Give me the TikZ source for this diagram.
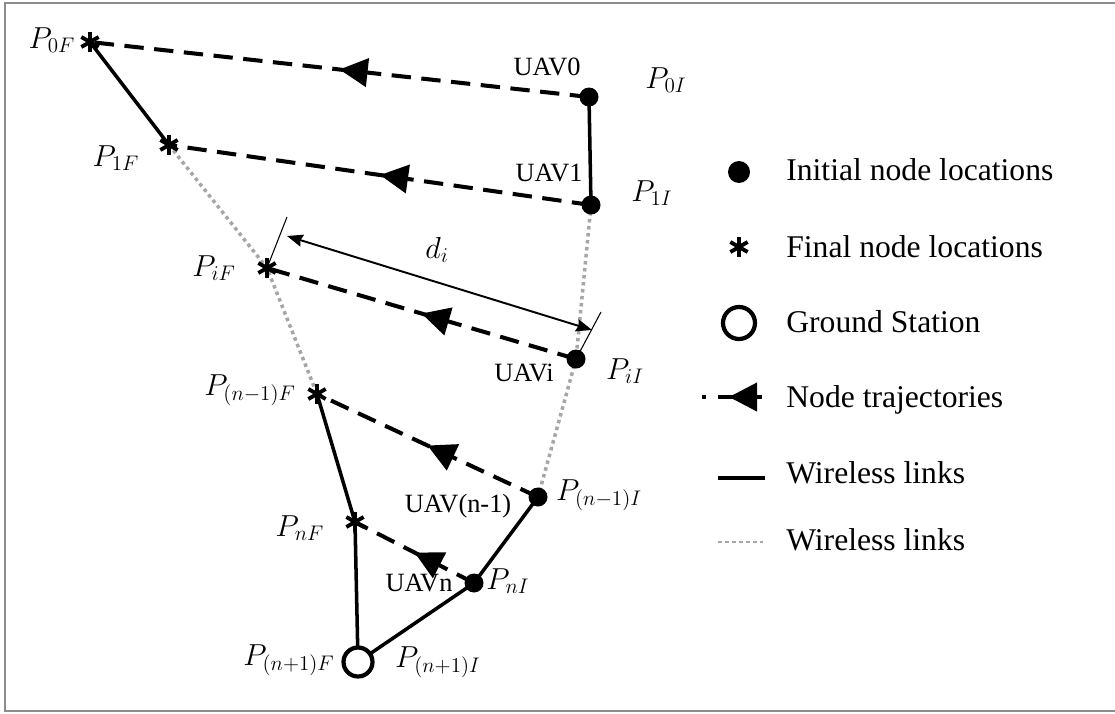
\documentclass[tikz,border=0pt]{standalone}
\usepackage{fontspec}
\setmainfont{Liberation Serif}
\usetikzlibrary{arrows.meta,positioning,calc,decorations.markings,backgrounds}

\begin{document}
\begin{tikzpicture}[
    x=0.02cm, y=-0.02cm,
    ini/.style={circle, fill=black, inner sep=0pt, minimum size=0.38cm},
    fin/.style={circle, inner sep=0pt, minimum size=0.46cm, path picture={
        \foreach \a in {90,30,150}
          \draw[line width=2.2pt] ($(path picture bounding box.center)+(\a:0.2cm)$) -- ($(path picture bounding box.center)+(\a+180:0.2cm)$);}},
    gs/.style={circle, draw, line width=2.4pt, fill=white, inner sep=0pt, minimum size=0.58cm},
    traj/.style={line width=2.3pt, dash pattern=on 11pt off 6pt, postaction={decorate},
        decoration={markings, mark=at position #1 with {\arrow{Triangle[length=16pt,width=16pt]}}}},
    traj/.default=0.5,
    link/.style={line width=2pt},
    relay/.style={line width=2pt, black!35, dash pattern=on 2pt off 2pt},
    lbl/.style={font=\fontsize{15}{18}\selectfont},
    mlbl/.style={font=\fontsize{18}{22}\selectfont},
    leg/.style={font=\fontsize{18}{22}\selectfont, anchor=base west, inner xsep=0pt}
]
\useasboundingbox (0,0) rectangle (1115,713);
\draw[black!45, line width=1.2pt] (1115,3) -- (5,3) -- (5,711) -- (1115,711);

% initial and final positions
\node[ini] (p0i) at (589,97) {};
\node[ini] (p1i) at (591,205) {};
\node[ini] (pii) at (576,359) {};
\node[ini] (pmi) at (538,497) {};
\node[ini] (pni) at (474,583) {};
\node[fin] (p0f) at (90,42) {};
\node[fin] (p1f) at (169,145) {};
\node[fin] (pif) at (267,268) {};
\node[fin] (pmf) at (317,394) {};
\node[fin] (pnf) at (355,522) {};
\node[gs] (gs) at (358,662) {};

% labels
\node[mlbl] (l0f) at (52,40) {$P_{0F}$};
\node[mlbl] (l1f) at (116,158) {$P_{1F}$};
\node[mlbl] (lif) at (214,268) {$P_{iF}$};
\node[mlbl] (lmf) at (250,390) {$P_{(n-1)F}$};
\node[mlbl] (lnf) at (300,528) {$P_{nF}$};
\node[mlbl] (lgf) at (289,660) {$P_{(n+1)F}$};
\node[mlbl] (lgi) at (438,662) {$P_{(n+1)I}$};
\node[mlbl] (lni) at (508,581) {$P_{nI}$};
\node[mlbl] (lmi) at (599,495) {$P_{(n-1)I}$};
\node[mlbl] (lii) at (625,371) {$P_{iI}$};
\node[mlbl] (l1i) at (652,193) {$P_{1I}$};
\node[mlbl] (l0i) at (666,80) {$P_{0I}$};
\node[lbl] (u0) at (547,67) {UAV0};
\node[lbl] (u1) at (549,173) {UAV1};
\node[lbl] (ui) at (524,373) {UAVi};
\node[lbl] (um) at (458,506) {UAV(n-1)};
\node[lbl] (un) at (419,583) {UAVn};

% links and trajectories
\begin{scope}[on background layer]
\draw[traj] (p0i.center) -- (p0f.center);
\draw[traj] (p1i.center) -- (p1f.center);
\draw[traj] (pii.center) -- (pif.center);
\draw[traj] (pmi.center) -- (pmf.center);
\draw[traj] (pni.center) -- (pnf.center);
\draw[link] (p0f.center) -- (p1f.center);
\draw[link] (p0i.center) -- (p1i.center);
\draw[link] (pmf.center) -- (pnf.center) -- (gs.center) -- (pni.center) -- (pmi.center);
\draw[relay] (p1f.center) -- (pif.center) -- (pmf.center);
\draw[relay] (p1i.center) -- (pii.center) -- (pmi.center);
\end{scope}

% distance d_i
\coordinate (tl) at (287,217);
\coordinate (tr) at (601,312);
\coordinate (dl) at (287,236);
\coordinate (dr) at (592,330);
\draw[line width=0.6pt] (pif.center) -- (tl);
\draw[line width=0.6pt] (pii.center) -- (tr);
\draw[line width=1.1pt, {Stealth[length=9pt,width=7pt,inset=1pt]}-{Stealth[length=9pt,width=7pt,inset=1pt]}] (dl) -- (dr);
\node[mlbl] (di) at (437,250) {$d_i$};

% legend
\node[ini, minimum size=0.44cm] (kini) at (739,172) {};
\node[leg] (tini) at (786,180) {Initial node locations};
\node[fin] (kfin) at (739,247) {};
\node[leg] (tfin) at (786,257) {Final node locations};
\node[gs, minimum size=0.64cm] (kgs) at (739,323) {};
\node[leg] (tgs) at (786,332) {Ground Station};
\coordinate (ka) at (762,397);
\coordinate (kb) at (718,397);
\draw[traj=0.75, dash pattern=] (ka) -- (kb);
\fill (702,395) rectangle (706,399);
\node[leg] (ttraj) at (786,407) {Node trajectories};
\coordinate (kc) at (718,478);
\coordinate (kd) at (765,478);
\draw[link, line width=2.3pt] (kc) -- (kd);
\node[leg] (tlink) at (786,483) {Wireless links};
\coordinate (ke) at (718,542);
\coordinate (kf) at (763,542);
\draw[relay, line width=1.6pt] (ke) -- (kf);
\node[leg] (trelay) at (786,550) {Wireless links};
\end{tikzpicture}
\end{document}
